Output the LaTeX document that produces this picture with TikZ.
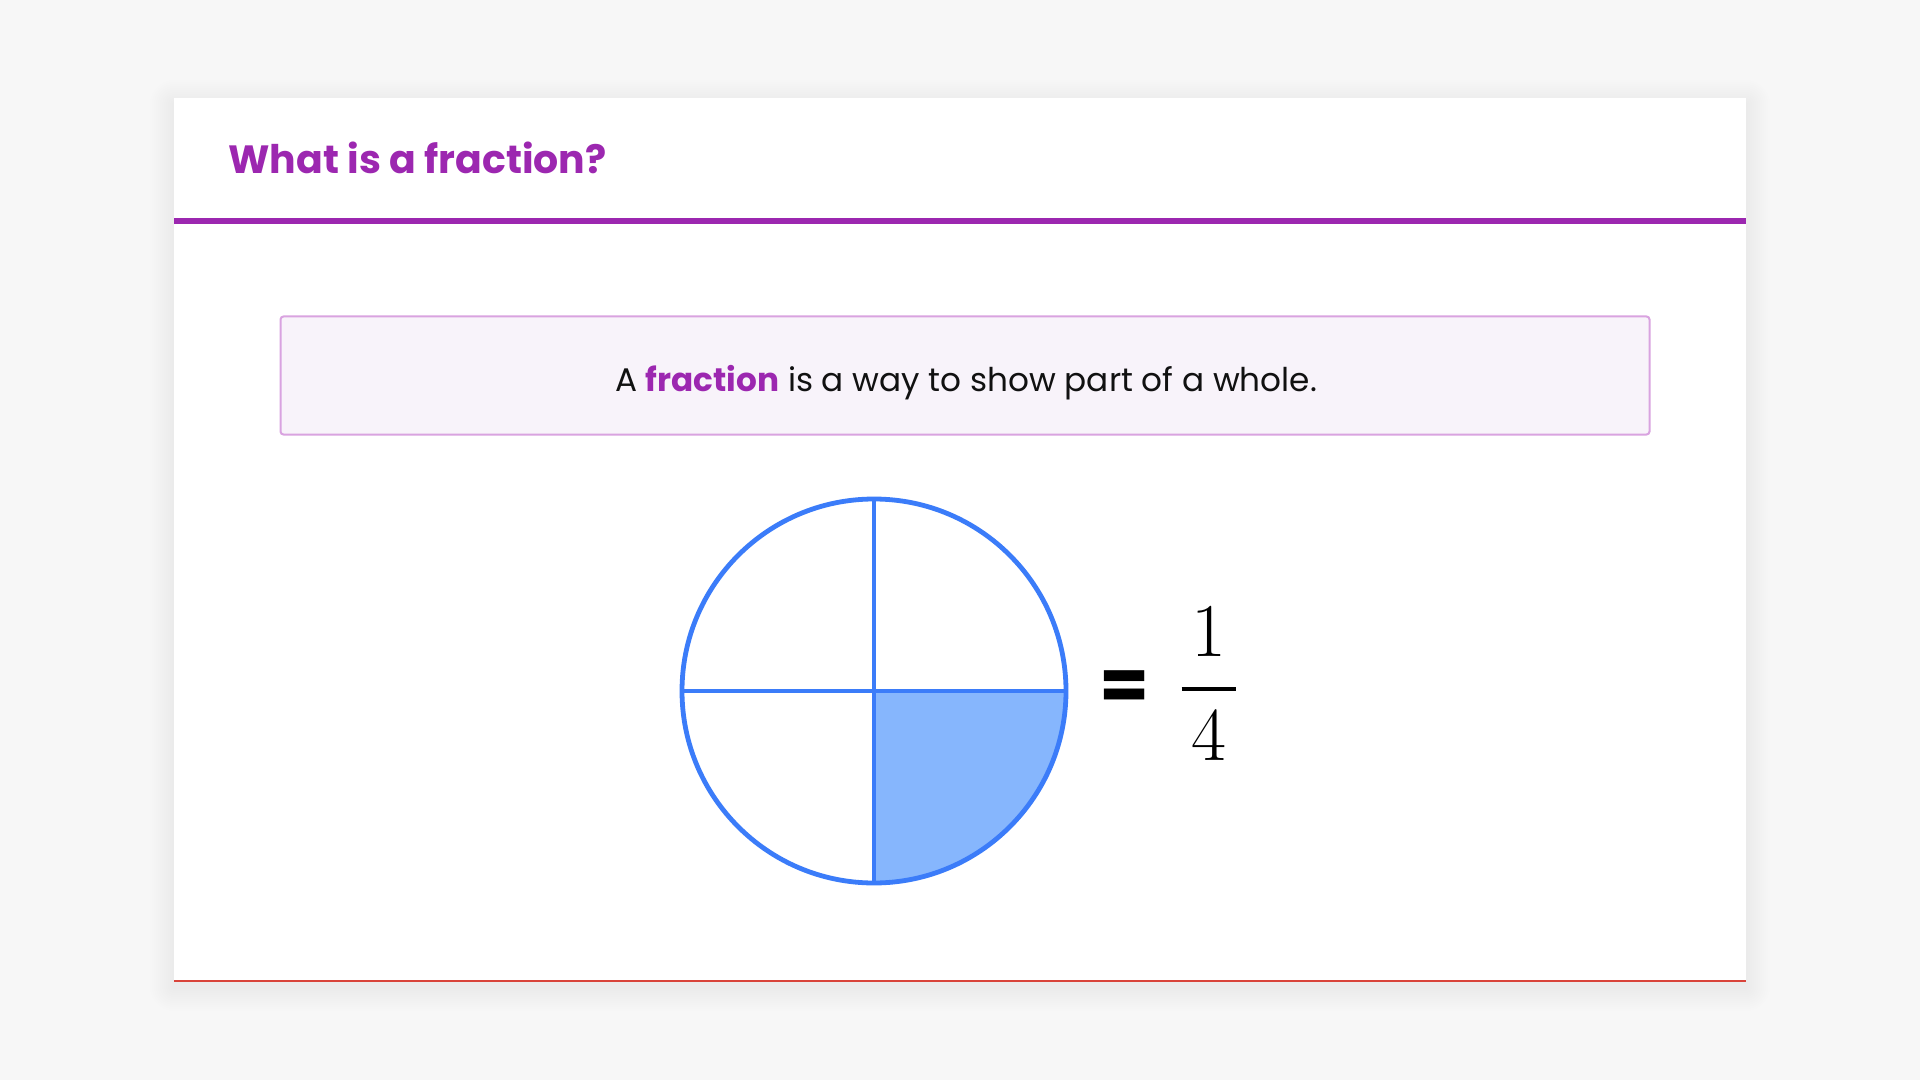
\RequirePackage{fix-cm}
\documentclass[tikz,border=0pt]{standalone}
\usepackage{fontspec}
\setmainfont{Poppins}
\definecolor{bgc}{HTML}{F7F7F7}
\definecolor{purp}{HTML}{9C27B0}
\definecolor{boxfill}{HTML}{F8F3FA}
\definecolor{boxline}{HTML}{D9A3E0}
\definecolor{blueline}{HTML}{3B7CF9}
\definecolor{bluefill}{HTML}{86B6FD}
\definecolor{redline}{HTML}{D9443A}
\definecolor{ink}{HTML}{111111}
\tikzset{
  card/.style={fill=white, draw=none},
  shadowlayer/.style={fill=black, fill opacity=0.0045, draw=none},
  defbox/.style={fill=boxfill, draw=boxline, line width=1pt, rounded corners=1.5pt},
  pie/.style={draw=blueline, line width=2.4pt},
  titletext/.style={font=\fontsize{19.7}{24}\selectfont\bfseries, text=purp, inner sep=0pt},
  bodytext/.style={font=\fontsize{16.35}{20}\selectfont, text=ink, inner sep=0pt},
}
\begin{document}
\begin{tikzpicture}[x=0.5pt,y=-0.5pt]
\fill[bgc] (0,0) rectangle (1920,1080);
\useasboundingbox (0,0) rectangle (1920,1080);
% soft shadow
\foreach \i in {2,4,...,24}{
  \path[shadowlayer, rounded corners=\i*0.5pt] (174-\i,98-\i+6) rectangle (1746+\i,981+\i+6);
}
% card
\path[card] (174,98) rectangle (1746,981);
\draw[redline, line width=1pt] (174,980.5) -- (1746,980.5);
% title
\node[titletext, anchor=base west] (title) at (228,174) {What is a fraction?};
\draw[purp, line width=3pt] (174,221) -- (1746,221);
% definition box
\node[defbox, minimum width=684.5pt, minimum height=59pt, anchor=north west, inner sep=0pt] (def) at (279.5,315.5) {};
\node[bodytext, anchor=base] (deftext) at (966,391) {A {\bfseries\color{purp}fraction} is a way to show part of a whole.};
% circle
\coordinate (c) at (874,691);
\fill[bluefill] (c) -- ++(192,0) arc[start angle=0, end angle=90, radius=192] -- cycle;
\draw[pie] (c) circle[radius=192];
\draw[pie] ([xshift=-192*0.5pt]c) -- ([xshift=192*0.5pt]c);
\draw[pie] ([yshift=192*0.5pt]c) -- ([yshift=-192*0.5pt]c);
% equals and fraction
\node[font=\fontsize{36}{40}\selectfont\bfseries, text=black, inner sep=0pt] (eq) at (1124.5,691) {=};
\node[font=\fontsize{38}{44}\selectfont, text=black, inner sep=0pt] (frac) at (1209,684) {$\displaystyle{\kern5pt1\kern5pt\above2.2pt\kern5pt4\kern5pt}$};
\end{tikzpicture}
\end{document}
